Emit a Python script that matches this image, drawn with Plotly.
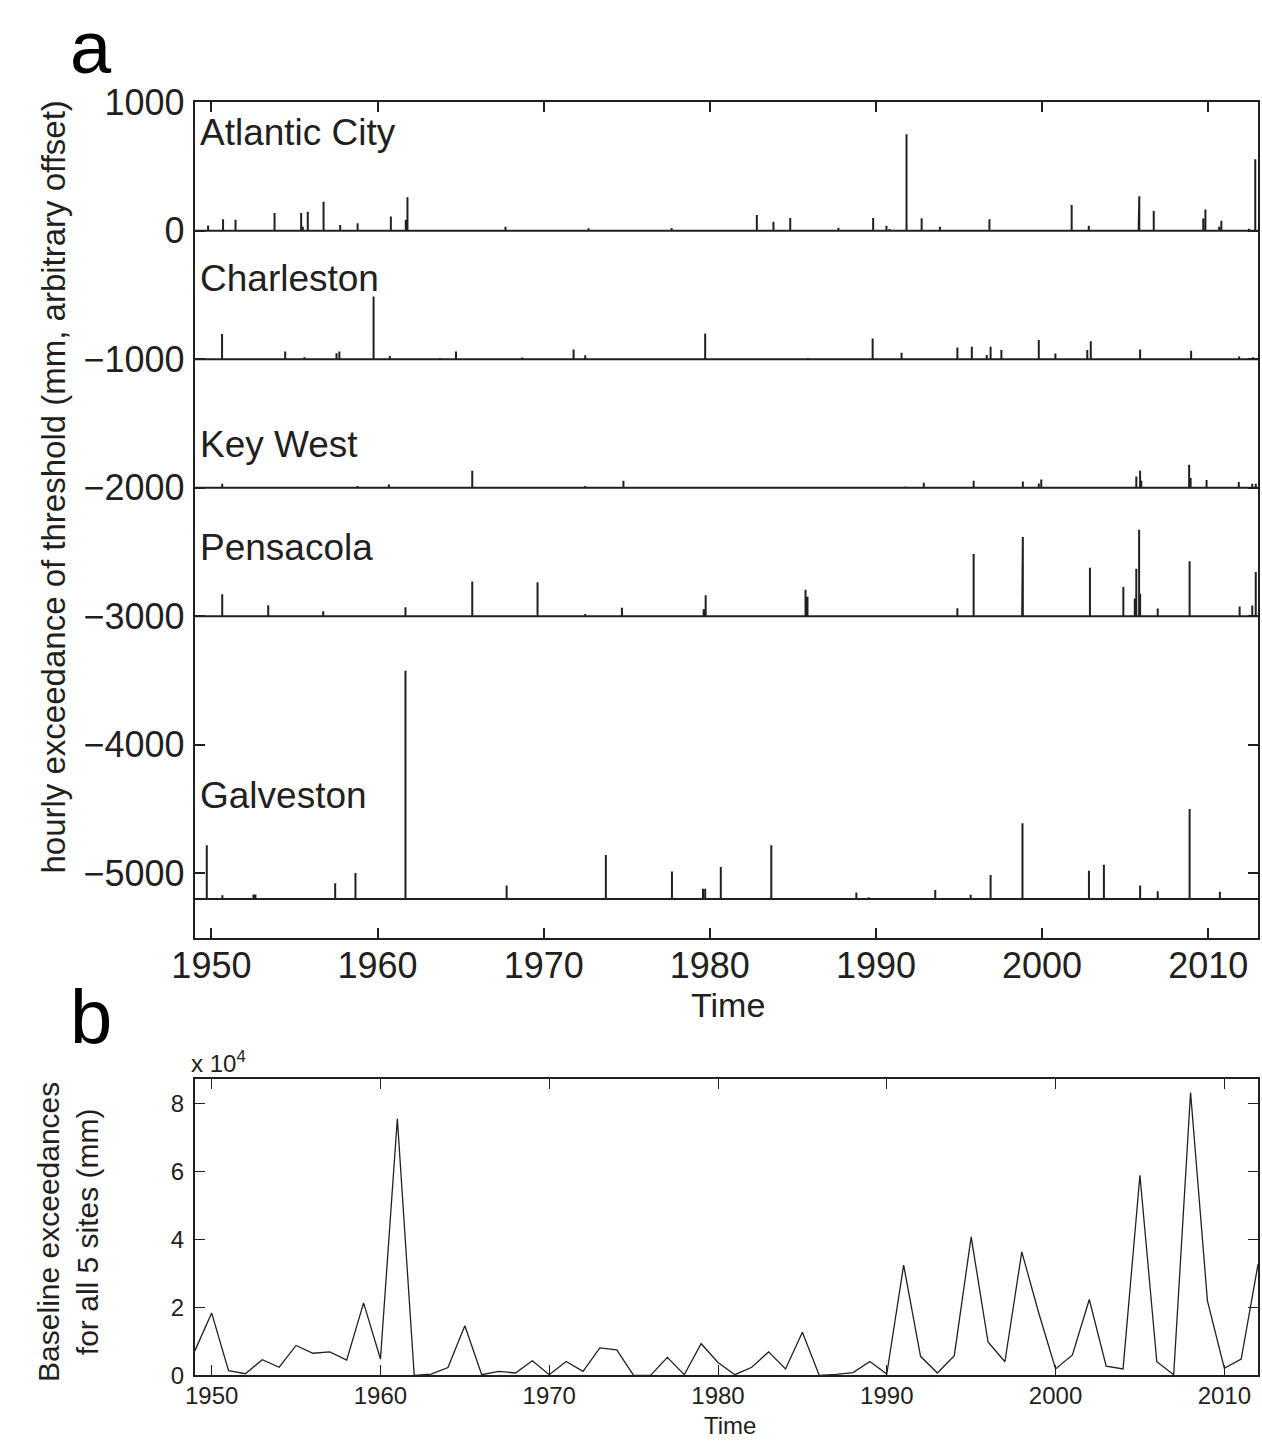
import numpy as np
import plotly.graph_objects as go

# ---------------- Panel a data: exceedance spikes (year, height in mm) ----------------
site_names = ["Atlantic City", "Charleston", "Key West", "Pensacola", "Galveston"]
site_offsets = [0, -1000, -2000, -3000, -5200]

atlantic_t = [1949.8, 1950.7, 1951.45, 1953.8, 1955.4, 1955.5, 1955.8, 1956.75, 1957.75, 1958.8,
              1960.8, 1961.7, 1961.8, 1967.7, 1972.7, 1977.7, 1982.83, 1983.83, 1984.84, 1987.74,
              1989.83, 1990.63, 1990.82, 1991.84, 1992.75, 1993.85, 1996.83, 2001.78, 2002.81,
              2005.81, 2005.85, 2006.72, 2009.7, 2009.83, 2010.66, 2010.79, 2012.45, 2012.83]
atlantic_h = [40, 89, 84, 137, 137, 30, 147, 224, 43, 58,
              109, 84, 259, 30, 18, 20, 122, 69, 99, 23,
              99, 38, 12, 750, 97, 30, 89, 200, 38,
              170, 267, 152, 94, 165, 30, 76, 15, 556]

charleston_t = [1950.64, 1954.44, 1955.6, 1957.53, 1957.7, 1959.76, 1960.74, 1963.75, 1964.72,
                1968.7, 1971.8, 1972.5, 1979.72, 1985.9, 1989.8, 1991.54, 1994.9, 1995.77,
                1996.67, 1996.9, 1997.55, 1999.8, 2000.8, 2002.72, 2002.93, 2005.9, 2008.97,
                2011.86, 2012.7]
charleston_h = [196, 59, 15, 46, 60, 488, 25, 10, 60,
                13, 76, 30, 200, 10, 160, 50, 91, 96,
                33, 96, 71, 150, 45, 71, 140, 76, 66,
                20, 15]

keywest_t = [1950.65, 1958.79, 1960.68, 1965.7, 1972.5, 1974.8, 1991.8, 1992.88, 1995.88,
             1998.84, 1999.8, 1999.95, 2005.67, 2005.9, 2005.97, 2008.85, 2008.94, 2009.9,
             2011.84, 2012.65, 2012.86]
keywest_h = [30, 13, 25, 131, 13, 55, 10, 38, 55,
             48, 33, 63, 88, 131, 55, 179, 76, 60,
             45, 30, 30]

pensacola_t = [1950.65, 1953.42, 1956.73, 1961.68, 1965.7, 1969.63, 1972.5, 1974.71, 1979.63,
               1979.75, 1985.76, 1985.88, 1994.9, 1995.88, 1998.8, 1998.84, 2002.88, 2003.64,
               2004.89, 2005.58, 2005.67, 2005.84, 2005.9, 2006.96, 2008.88, 2011.89, 2012.65,
               2012.86]
pensacola_h = [171, 86, 38, 71, 270, 265, 18, 66, 55,
               164, 207, 151, 63, 484, 25, 617, 378, 8,
               227, 139, 370, 673, 176, 60, 428, 76, 83,
               345]

galveston_t = [1949.72, 1950.66, 1952.53, 1952.65, 1957.45, 1958.67, 1961.68, 1967.77, 1973.74,
               1977.72, 1979.59, 1979.72, 1980.66, 1983.7, 1988.82, 1989.56, 1993.57, 1995.7,
               1996.9, 1998.82, 2002.82, 2003.72, 2005.9, 2006.96, 2008.88, 2010.7]
galveston_h = [418, 30, 35, 35, 122, 203, 1777, 106, 342,
               215, 81, 81, 250, 418, 51, 13, 71, 33,
               187, 590, 220, 266, 106, 61, 701, 56]

site_times = [atlantic_t, charleston_t, keywest_t, pensacola_t, galveston_t]
site_heights = [atlantic_h, charleston_h, keywest_h, pensacola_h, galveston_h]

a_x_range = [1949, 2013]
a_y_range = [-5500, 1000]
a_y_ticks = [1000, 0, -1000, -2000, -3000, -4000, -5000]
a_x_ticks = [1950, 1960, 1970, 1980, 1990, 2000, 2010]

# ---------------- Panel b data: annual baseline exceedances (mm) ----------------
b_years = list(range(1949, 2013))
b_values = [7200, 18300, 1400, 500, 4600, 2400, 8800, 6500, 6900, 4500,
            21300, 4800, 75400, 0, 400, 2300, 14600, 200, 1200, 700,
            4300, 200, 4100, 1200, 8100, 7500, 0, 0, 5300, 200,
            9300, 3800, 200, 2400, 6900, 1900, 12700, 0, 300, 800,
            4100, 400, 32400, 5600, 700, 5800, 40700, 9800, 4000, 36300,
            18400, 1900, 6000, 22300, 2700, 1900, 58800, 4000, 200, 83100,
            21900, 2100, 4800, 32700]
b_y_ticks = [0, 20000, 40000, 60000, 80000]
b_y_ticktext = ["0", "2", "4", "6", "8"]
b_x_ticks = [1950, 1960, 1970, 1980, 1990, 2000, 2010]
b_x_range = [1949, 2012]
b_y_range = [0, 87000]

# ---------------- Figure ----------------
W, H = 1262, 1448
INK = "#231f20"
FONT = "Liberation Sans, Arial, Helvetica, sans-serif"


def px(x):
    return x / W


def py(y):
    return 1 - y / H


fig = go.Figure()

for name, off, ts, hs in zip(site_names, site_offsets, site_times, site_heights):
    order = np.argsort(ts)
    xs = [a_x_range[0]]
    ys = [off]
    for i in order:
        xs += [ts[i], ts[i], ts[i]]
        ys += [off, off + hs[i], off]
    xs.append(a_x_range[1])
    ys.append(off)
    fig.add_trace(go.Scatter(x=xs, y=ys, mode="lines", line=dict(color=INK, width=2),
                             name=name, showlegend=False, xaxis="x", yaxis="y"))

fig.add_trace(go.Scatter(x=b_years, y=b_values, mode="lines", line=dict(color=INK, width=1.3),
                         showlegend=False, xaxis="x2", yaxis="y2"))

axis_common = dict(showline=True, linecolor=INK, mirror="ticks", ticks="inside",
                   tickcolor=INK, showgrid=False, zeroline=False)

fig.update_layout(
    width=W, height=H,
    margin=dict(l=0, r=0, t=0, b=0),
    paper_bgcolor="white", plot_bgcolor="white",
    font=dict(family=FONT, color=INK),
    xaxis=dict(domain=[px(175), px(1258)], anchor="y", range=a_x_range,
               tickvals=a_x_ticks, ticklen=10, tickwidth=1.6, linewidth=2,
               tickfont=dict(size=36, family=FONT, color=INK), ticklabelstandoff=-5,
               **axis_common),
    yaxis=dict(domain=[py(939), py(84)], anchor="x", range=a_y_range,
               tickvals=a_y_ticks, ticklen=10, tickwidth=1.6, linewidth=2,
               tickfont=dict(size=36, family=FONT, color=INK), ticklabelstandoff=1,
               **axis_common),
    xaxis2=dict(domain=[px(175), px(1258)], anchor="y2", range=b_x_range,
                tickvals=b_x_ticks, ticklen=10, tickwidth=1.3, linewidth=1.8,
                tickfont=dict(size=24, family=FONT, color=INK), ticklabelstandoff=-2,
                **axis_common),
    yaxis2=dict(domain=[py(1387), py(1084)], anchor="x2", range=b_y_range,
                tickvals=b_y_ticks, ticktext=b_y_ticktext, ticklen=10, tickwidth=1.3,
                linewidth=1.8, tickfont=dict(size=24, family=FONT, color=INK),
                ticklabelstandoff=4, **axis_common),
)

label_y = [115, 265, 434, 540, 794]
ann = []
for name, ly in zip(site_names, label_y):
    ann.append(dict(text=name, x=px(178), y=py(ly), xref="paper", yref="paper",
                    xanchor="left", yanchor="middle", showarrow=False,
                    font=dict(size=37, family=FONT, color=INK)))

ann += [
    dict(text="a", x=px(46), y=py(-16), xref="paper", yref="paper", xanchor="left",
         yanchor="top", showarrow=False, font=dict(size=74, family=FONT, color="black")),
    dict(text="b", x=px(46), y=py(974), xref="paper", yref="paper", xanchor="left",
         yanchor="top", showarrow=False, font=dict(size=76, family=FONT, color="black")),
    dict(text="hourly exceedance of threshold (mm, arbitrary offset)", x=px(31), y=py(478),
         xref="paper", yref="paper", xanchor="center", yanchor="middle", textangle=-90,
         showarrow=False, font=dict(size=33, family=FONT, color=INK)),
    dict(text="Time", x=px(718), y=py(1008), xref="paper", yref="paper", xanchor="center",
         yanchor="middle", showarrow=False, font=dict(size=34, family=FONT, color=INK)),
    dict(text="Baseline exceedances<br>for all 5 sites (mm)", x=px(46), y=py(1240),
         xref="paper", yref="paper", xanchor="center", yanchor="middle", textangle=-90,
         showarrow=False, font=dict(size=30, family=FONT, color=INK)),
    dict(text="x 10<sup>4</sup>", x=px(169), y=py(1066), xref="paper", yref="paper",
         xanchor="left", yanchor="middle", showarrow=False,
         font=dict(size=24, family=FONT, color=INK)),
    dict(text="Time", x=px(720), y=py(1438), xref="paper", yref="paper", xanchor="center",
         yanchor="middle", showarrow=False, font=dict(size=24, family=FONT, color=INK)),
]
fig.update_layout(annotations=ann)

fig.write_html("out.html")
